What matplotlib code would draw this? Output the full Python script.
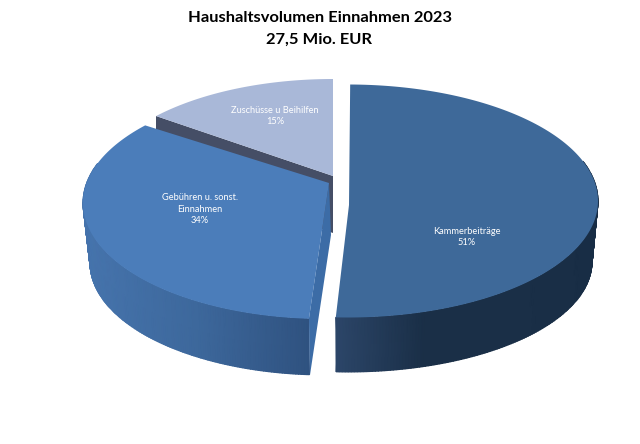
import numpy as np
import matplotlib
matplotlib.use('Agg')
import matplotlib.pyplot as plt
from matplotlib.colors import LinearSegmentedColormap

plt.rcParams['font.family'] = ['Lato', 'DejaVu Sans']

title_lines = ['Haushaltsvolumen Einnahmen 2023', '27,5 Mio. EUR']
categories = ['Kammerbeiträge', 'Gebühren u. sonst.\nEinnahmen', 'Zuschüsse u Beihilfen']
shares = [51, 34, 15]


def rim(center, radii, angles):
    # angle runs clockwise from 12 o'clock, y axis points down
    a = np.radians(angles)
    return center[0] + radii[0] * np.sin(a), center[1] - radii[1] * np.cos(a)


def draw_wall(ax, top, top_r, bottom, bottom_r, a0, a1, colors):
    # outer side of a slice, shaded from left to right
    angles = np.linspace(a0, a1, 160)
    xt, yt = rim(top, top_r, angles)
    xb, yb = rim(bottom, bottom_r, angles)
    X = np.vstack([xt, xb])
    Y = np.vstack([yt, yb])
    cmap = LinearSegmentedColormap.from_list('wall', colors)
    ax.pcolormesh(X, Y, X, cmap=cmap, shading='gouraud', zorder=2)


fig = plt.figure(figsize=(6.4, 4.44), dpi=100)
ax = fig.add_axes([0, 0, 1, 1])
ax.axis('off')

# slice angles come from the shares, the extra degrees are for the 3d perspective
ends = np.cumsum(shares) * 3.6
starts = ends - np.array(shares) * 3.6
a1_start, a1_end = starts[0] + 0.5, ends[0] - 0.8
a2_start, a2_end = starts[1] + 0.2, ends[1] + 6
a3_start, a3_end = starts[2] + 6, ends[2]

# back slice first
x3, y3 = rim((333, 191), (238, 112), np.linspace(a3_start, a3_end, 80))
ax.fill([156, 333, 333, 156], [116, 176, 233, 172], color='#454e66', lw=0, zorder=1)
ax.fill(np.r_[333, x3], np.r_[176, y3], color='#a9b8d8', lw=0, zorder=1.5)

# left slice
draw_wall(ax, (325, 203), (242, 116), (325, 263), (235, 112), a2_start, 290,
          ['#4674ad', '#3d689c', '#2f5280'])
ax.fill([329, 331, 310, 309], [183, 235, 375, 318], color='#3c6ca6', lw=0, zorder=2.5)
x2, y2 = rim((325, 203), (242, 116), np.linspace(a2_start, a2_end, 120))
ax.fill(np.r_[329, x2], np.r_[183, y2], color='#4b7dba', lw=0, zorder=3)

# right slice
draw_wall(ax, (348, 201), (250, 116.5), (348, 262), (244, 110), 70, a1_end,
          ['#2c4669', '#1a2f47', '#1a2f47', '#182d45'])
x1, y1 = rim((348, 201), (250, 116.5), np.linspace(a1_start, a1_end, 160))
ax.fill(np.r_[349, x1], np.r_[205, y1], color='#3e6999', lw=0, zorder=3)

label_pos = [(467, 237), (200, 209), (275, 116)]
for name, share, pos in zip(categories, shares, label_pos):
    ax.text(pos[0], pos[1], f'{name}\n{share}%', color='white', fontsize=6.7,
            ha='center', va='center', linespacing=1.35, zorder=5)

ax.text(319.5, 18.5, title_lines[0], fontsize=11.85, fontweight='bold', color='black',
        ha='center', va='center')
ax.text(319.5, 40, title_lines[1], fontsize=11.85, fontweight='bold', color='black',
        ha='center', va='center')

ax.set_xlim(0, 640)
ax.set_ylim(444, 0)
fig.savefig('out.png', dpi=100, facecolor='white')
